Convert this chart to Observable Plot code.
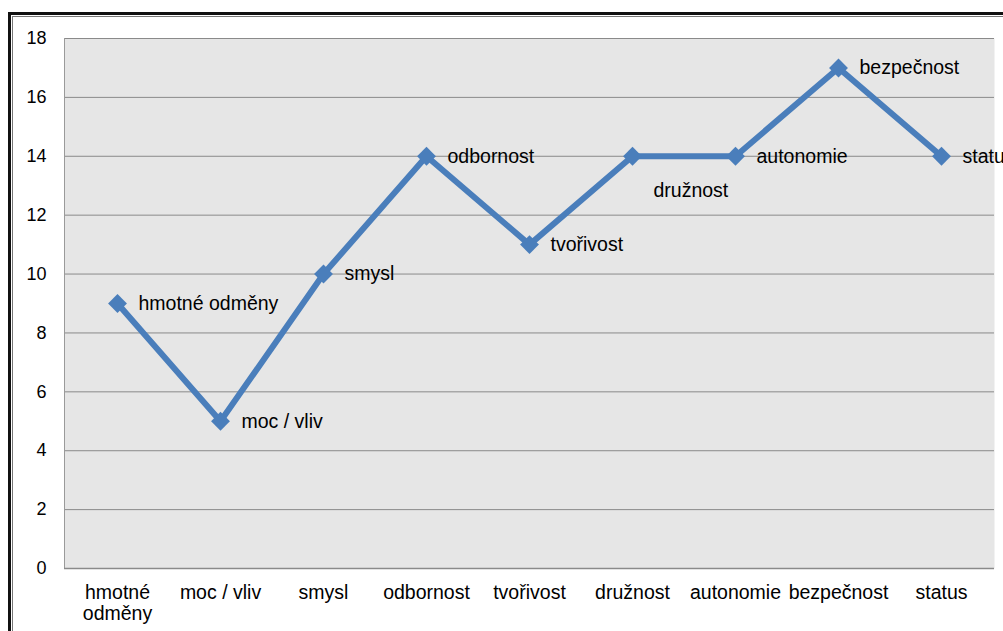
<!DOCTYPE html>
<html>
<head>
<meta charset="utf-8">
<script src="https://cdn.jsdelivr.net/npm/d3@7"></script>
<script src="https://cdn.jsdelivr.net/npm/@observablehq/plot@0.6"></script>
<style>
  html, body { margin: 0; padding: 0; background: #fff; overflow: hidden; }
  #wrap { position: relative; width: 1003px; height: 631px; }
  #frame { position: absolute; left: 8px; top: 12px; width: 1100px; height: 700px;
           border-top: 3px solid #111; border-left: 3px solid #111; }
  #frame2 { position: absolute; left: 12px; top: 16px; width: 1100px; height: 700px;
           border-top: 1px solid #777; border-left: 1px solid #777; }
  #chart { position: absolute; left: 0; top: 0; }
</style>
</head>
<body>
<div id="wrap"><div id="frame"></div><div id="frame2"></div><div id="chart"></div></div>
<script>
const categories = ["hmotné odměny", "moc / vliv", "smysl", "odbornost", "tvořivost", "družnost", "autonomie", "bezpečnost", "status"];
const values = [9, 5, 10, 14, 11, 14, 14, 17, 14];
const yTicks = [0, 2, 4, 6, 8, 10, 12, 14, 16, 18];
const belowLabel = ["družnost"];

const data = categories.map((c, i) => ({cat: c, v: values[i]}));
const font = "'Liberation Sans', Arial, sans-serif";

const chart = Plot.plot({
  width: 1003,
  height: 631,
  marginLeft: 64,
  marginRight: 9,
  marginTop: 38,
  marginBottom: 63,
  style: {fontFamily: font, fontSize: "19px", color: "#000", background: "transparent"},
  x: {type: "point", domain: categories, padding: 0.5},
  y: {domain: [0, 18]},
  marks: [
    Plot.frame({fill: "#e6e6e6", stroke: null}),
    Plot.gridY(yTicks, {stroke: "#8a8a8a", strokeOpacity: 1, strokeWidth: 1}),
    Plot.frame({anchor: "left", stroke: "#9a9a9a"}),
    Plot.ruleY([0], {stroke: "#8a8a8a", strokeWidth: 1.5}),
    Plot.axisY({ticks: yTicks, tickSize: 0, tickPadding: 18, fontSize: 18, label: null}),
    Plot.axisX({tickSize: 0, tickPadding: 16, fontSize: 19.5, lineHeight: 1.05, label: null,
      tickFormat: d => d === "hmotné odměny" ? "hmotné\nodměny" : d}),
    Plot.line(data, {x: "cat", y: "v", stroke: "#4a7ebb", strokeWidth: 6, strokeLinejoin: "miter"}),
    Plot.dot(data, {x: "cat", y: "v", symbol: "diamond2", r: 8.5, fill: "#4a7ebb", stroke: null}),
    Plot.text(data.filter(d => !belowLabel.includes(d.cat)), {x: "cat", y: "v", text: "cat", dx: 21, textAnchor: "start", fontSize: 19.5, fill: "#000"}),
    Plot.text(data.filter(d => belowLabel.includes(d.cat)), {x: "cat", y: "v", text: "cat", dx: 21, dy: 34, textAnchor: "start", fontSize: 19.5, fill: "#000"})
  ]
});
document.getElementById("chart").appendChild(chart);
</script>
</body>
</html>
